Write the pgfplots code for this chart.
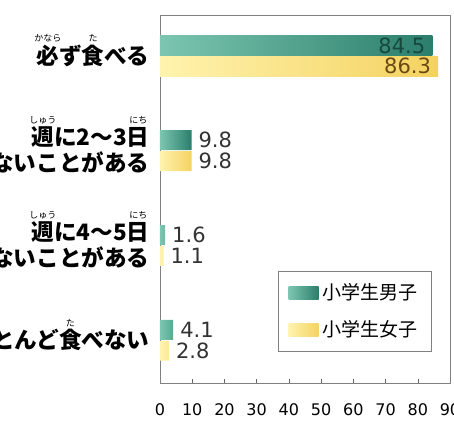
\documentclass[border=0pt]{standalone}
\usepackage{fontspec}
\usepackage{pgfplots}
\pgfplotsset{compat=1.18}
\setmainfont{DejaVu Sans}
\newfontfamily\jp{Noto Sans CJK JP}

\definecolor{tealL}{HTML}{7CC6B0}
\definecolor{tealD}{HTML}{2A7E6B}
\definecolor{tealT}{HTML}{17483D}
\definecolor{yelL}{HTML}{FFF3AE}
\definecolor{yelD}{HTML}{F4D260}
\definecolor{yelT}{HTML}{6B4A12}

% furigana over a single kanji, takes no vertical room
\newcommand\ruby[2]{\leavevmode\rlap{\raisebox{1.0em}[0pt][0pt]{\makebox[1em]{\fontsize{4.5}{4.5}\selectfont\mdseries #2}}}#1}

\begin{document}
\begin{tikzpicture}
\begin{axis}[
  at={(0,0)}, anchor=south west,
  scale only axis, width=145pt, height=184pt,
  xmin=0, xmax=90, ymin=-0.43, ymax=3.45, y dir=reverse,
  axis line style={draw=black!50},
  xtick={0,10,...,90}, xtick pos=bottom, tick align=inside,
  major tick length=2pt, tick style={black!60},
  /pgf/number format/assume math mode=true,
  xticklabel style={font=\fontsize{8}{8}\selectfont, yshift=-7pt},
  ytick={0,1,2,3}, ytick style={draw=none},
  yticklabels={
    {\ruby{必}{かなら}ず\ruby{食}{た}べる},
    {\ruby{週}{しゅう}に2～3\ruby{日}{にち}\\\ruby{食}{た}べないことがある},
    {\ruby{週}{しゅう}に4～5\ruby{日}{にち}\\\ruby{食}{た}べないことがある},
    {ほとんど\ruby{食}{た}べない}},
  yticklabel style={font=\jp\bfseries\fontsize{11.3}{13}\selectfont,
    align=right, inner sep=0pt, xshift=-3pt},
  xbar, bar width=0.21, point meta=x,
  nodes near coords={\pgfmathprintnumber[fixed,fixed zerofill,precision=1]{\pgfplotspointmeta}},
  every node near coord/.append style={font=\fontsize{10.5}{10.5}\selectfont, text=black!80},
  legend style={at={(0.938,0.084)}, anchor=south east, draw=black!50, fill=white,
    font=\jp\fontsize{9.5}{9.5}\selectfont, row sep=5pt, inner xsep=5pt, inner ysep=4pt,
    cells={anchor=west}},
  legend image code/.code={\path[#1] (0pt,-3.2pt) rectangle (15pt,3.2pt);},
]
\addplot[draw=none, left color=tealL, right color=tealD, bar shift=-0.11,
  every node near coord/.append style={anchor=east, text=tealT}]
  coordinates {(84.5,0)};
\addlegendentry{小学生男子}
\addplot[draw=none, left color=tealL, right color=tealD, bar shift=-0.11, forget plot]
  coordinates {(9.8,1) (1.6,2) (4.1,3)};
\addplot[draw=none, left color=yelL, right color=yelD, bar shift=0.11,
  every node near coord/.append style={anchor=east, text=yelT}]
  coordinates {(86.3,0)};
\addlegendentry{小学生女子}
\addplot[draw=none, left color=yelL, right color=yelD, bar shift=0.11, forget plot]
  coordinates {(9.8,1) (1.1,2) (2.8,3)};
\end{axis}
\pgfresetboundingbox
\useasboundingbox (-80pt,-26pt) rectangle (147pt,191.5pt);
\end{tikzpicture}
\end{document}
